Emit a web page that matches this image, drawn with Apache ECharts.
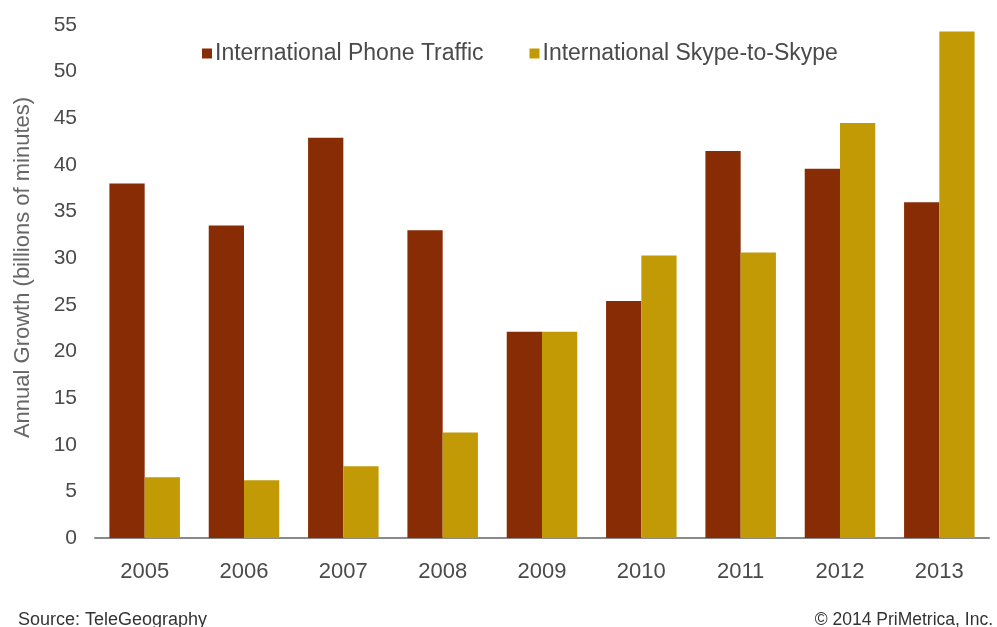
<!DOCTYPE html>
<html><head><meta charset="utf-8">
<script src="https://cdn.jsdelivr.net/npm/echarts@6/dist/echarts.min.js"></script>
<style>html,body{margin:0;padding:0;background:#fff}#c{width:997px;height:627px}</style>
</head><body><div id="c"></div>
<script>
const years = ['2005','2006','2007','2008','2009','2010','2011','2012','2013'];
const phoneTraffic = [38, 33.5, 42.9, 33, 22.1, 25.4, 41.5, 39.6, 36];
const skypeTraffic = [6.5, 6.2, 7.7, 11.3, 22.1, 30.3, 30.6, 44.5, 54.3];
const yTicks = [0,5,10,15,20,25,30,35,40,45,50,55];

const chart = echarts.init(document.getElementById('c'));
const font = 'Liberation Sans, Arial, Helvetica, sans-serif';
chart.setOption({
  animation: false,
  textStyle: {fontFamily: font},
  grid: {left: 95, right: 8, top: 25, bottom: 89},
  legend: {
    left: 197, top: 37, itemWidth: 10, itemHeight: 10, itemGap: 46,
    icon: 'rect',
    textStyle: {fontSize: 23, color: '#4a4a4a', fontFamily: font, padding: [3,0,0,-2]},
    data: ['International Phone Traffic', 'International Skype-to-Skype']
  },
  xAxis: {
    type: 'category', data: years,
    axisLine: {lineStyle: {color: '#8a8a8a', width: 2}},
    axisTick: {show: false},
    axisLabel: {fontSize: 22, color: '#4a4a4a', margin: 23}
  },
  yAxis: {
    type: 'value', min: 0, max: 55, interval: 5,
    name: 'Annual Growth (billions of minutes)',
    nameLocation: 'middle', nameGap: 61, nameRotate: 90,
    nameTextStyle: {fontSize: 22, color: '#666', padding: [0, 0, 0, 28]},
    axisLine: {show: false}, axisTick: {show: false}, splitLine: {show: false},
    axisLabel: {fontSize: 21, color: '#4a4a4a', margin: 18}
  },
  series: [
    {name: 'International Phone Traffic', type: 'bar', data: phoneTraffic,
     itemStyle: {color: '#882c05'}, barGap: '0%', barCategoryGap: '29%'},
    {name: 'International Skype-to-Skype', type: 'bar', data: skypeTraffic,
     itemStyle: {color: '#c29a06'}}
  ],
  graphic: [
    {type: 'text', left: 18, top: 611, style: {text: 'Source: TeleGeography', fontSize: 18, fill: '#333', fontFamily: font}},
    {type: 'text', right: 4, top: 611, style: {text: '© 2014 PriMetrica, Inc.', fontSize: 17.5, fill: '#333', fontFamily: font}}
  ]
});
</script></body></html>
